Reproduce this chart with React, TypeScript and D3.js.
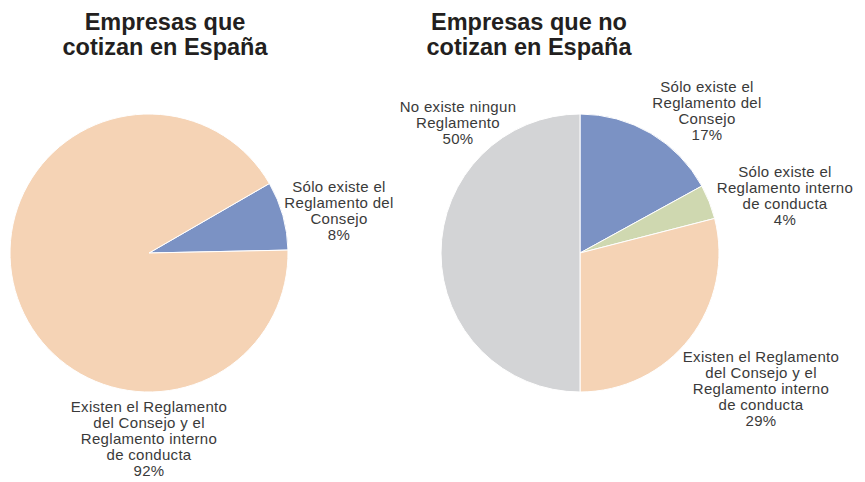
import React, { useRef, useEffect } from 'react';
import * as d3 from 'd3';

// left chart: listed companies
const leftCategories = ['Sólo existe el Reglamento del Consejo', 'Existen el Reglamento del Consejo y el Reglamento interno de conducta'];
const leftValues = [8, 92];
const leftLabels = [
  ['Sólo existe el', 'Reglamento del', 'Consejo', '8%'],
  ['Existen el Reglamento', 'del Consejo y el', 'Reglamento interno', 'de conducta', '92%'],
];

// right chart: non-listed companies
const rightCategories = ['Sólo existe el Reglamento del Consejo', 'Sólo existe el Reglamento interno de conducta', 'Existen el Reglamento del Consejo y el Reglamento interno de conducta', 'No existe ningun Reglamento'];
const rightValues = [17, 4, 29, 50];
const rightLabels = [
  ['Sólo existe el', 'Reglamento del', 'Consejo', '17%'],
  ['Sólo existe el', 'Reglamento interno', 'de conducta', '4%'],
  ['Existen el Reglamento', 'del Consejo y el', 'Reglamento interno', 'de conducta', '29%'],
  ['No existe ningun', 'Reglamento', '50%'],
];

const colorOf: Record<string, string> = {
  'Sólo existe el Reglamento del Consejo': '#7b92c4',
  'Sólo existe el Reglamento interno de conducta': '#cfd8b0',
  'Existen el Reglamento del Consejo y el Reglamento interno de conducta': '#f5d3b5',
  'No existe ningun Reglamento': '#d3d4d6',
};

const App = () => {
  const svgRef = useRef<SVGSVGElement>(null);

  useEffect(() => {
    document.body.style.margin = '0';
    const svg = d3.select(svgRef.current);
    svg.selectAll('*').remove();

    const radius = 139;
    const arc = d3.arc<any>().innerRadius(0).outerRadius(radius);

    const charts = [
      {
        title: ['Empresas que', 'cotizan en España'], titleX: 165,
        cx: 149, cy: 253, start: Math.PI / 3,
        cats: leftCategories, vals: leftValues, labels: leftLabels,
        // label anchor (centre x, first baseline) relative to pie centre
        labelPos: [[190, -61], [0, 159]],
      },
      {
        title: ['Empresas que no', 'cotizan en España'], titleX: 529,
        cx: 580, cy: 253, start: 0,
        cats: rightCategories, vals: rightValues, labels: rightLabels,
        labelPos: [[127, -161], [205, -76], [181, 109], [-122, -141]],
      },
    ];

    charts.forEach((c) => {
      // title
      const t = svg.append('text')
        .attr('x', c.titleX)
        .attr('text-anchor', 'middle')
        .style('font-family', '"Liberation Sans", Arial, sans-serif')
        .style('font-weight', 'bold')
        .style('font-size', '23.5px')
        .style('fill', '#231f20');
      c.title.forEach((line, i) => {
        t.append('tspan').attr('x', c.titleX).attr('y', 30 + i * 25).text(line);
      });

      const pie = d3.pie<number>().sort(null)
        .startAngle(c.start).endAngle(c.start + 2 * Math.PI);
      const arcs = pie(c.vals);

      const g = svg.append('g').attr('transform', `translate(${c.cx},${c.cy})`);
      g.selectAll('path')
        .data(arcs)
        .enter().append('path')
        .attr('d', arc)
        .style('fill', (d) => colorOf[c.cats[d.index]])
        .style('stroke', '#fff')
        .style('stroke-width', 1);

      c.labels.forEach((lines, i) => {
        const [lx, ly] = c.labelPos[i];
        const lt = g.append('text')
          .attr('text-anchor', 'middle')
          .style('font-family', '"Liberation Sans", Arial, sans-serif')
          .style('font-size', '15px')
          .style('letter-spacing', '0.3px')
          .style('fill', '#3a3a3a');
        lines.forEach((line, j) => {
          lt.append('tspan').attr('x', lx).attr('y', ly + j * 16).text(line);
        });
      });
    });
  }, []);

  return <svg ref={svgRef} width={865} height={482} style={{ display: 'block', background: '#fff' }} />;
};

export default App;
